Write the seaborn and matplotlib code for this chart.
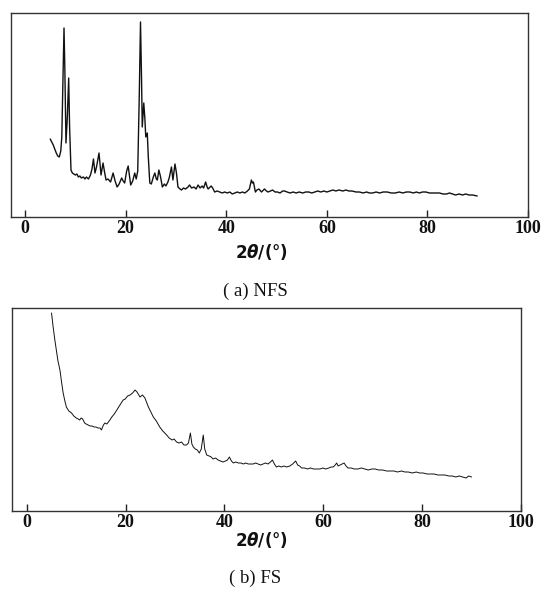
import pandas as pd
import matplotlib
matplotlib.use('Agg')
import matplotlib.pyplot as plt
import seaborn as sns

# ---------------- Data (arbitrary intensity) ----------------

nfs_two_theta = [
    5.0, 5.3, 5.6, 5.9, 6.2, 6.5, 6.8, 7.1, 7.3, 7.5, 7.74, 7.9, 8.13, 8.4, 8.67, 8.85,
    9.13, 9.4, 9.7, 10.0, 10.3, 10.6, 10.9, 11.2, 11.6, 11.9, 12.2, 12.6, 13.0, 13.3,
    13.6, 13.9, 14.2, 14.7, 15.1, 15.5, 15.8, 16.1, 16.5, 17.0, 17.5, 17.9, 18.3, 18.7,
    19.2, 19.5, 19.8, 20.2, 20.5, 20.8, 21.0, 21.4, 21.8, 22.1, 22.4, 22.7, 22.95, 23.15,
    23.3, 23.6, 23.8, 24.0, 24.3, 24.5, 24.8, 25.1, 25.5, 25.8, 26.1, 26.3, 26.6, 26.9,
    27.3, 27.7, 28.0, 28.4, 28.7, 29.1, 29.4, 29.8, 30.1, 30.4, 30.8, 31.1, 31.5, 31.9,
    32.4, 32.7, 33.1, 33.6, 34.0, 34.4, 34.8, 35.2, 35.5, 35.9, 36.2, 36.4, 37.0, 37.3,
    37.7, 38.2, 38.7, 39.2, 39.7, 40.2, 40.7, 41.2, 41.7, 42.2, 42.7, 43.2, 43.7, 44.2,
    44.6, 45.0, 45.2, 45.4, 45.8, 46.1, 46.5, 47.0, 47.6, 48.0, 48.3, 48.8, 49.2, 49.7,
    50.2, 50.7, 51.2, 51.6, 52.1, 52.7, 53.3, 53.9, 54.5, 55.2, 55.8, 56.4, 57.0, 57.6,
    58.2, 58.8, 59.4, 60.0, 60.6, 61.2, 61.8, 62.4, 63.2, 63.8, 64.4, 65.0, 65.8, 66.5,
    67.2, 67.9, 68.5, 69.1, 69.8, 70.5, 71.2, 72.0, 72.8, 73.6, 74.4, 75.1, 75.8, 76.5,
    77.2, 77.8, 78.4, 79.0, 79.7, 80.4, 81.0, 81.7, 82.4, 83.1, 83.8, 84.4, 85.0, 85.6,
    86.3, 87.0, 87.6, 88.3, 89.0, 89.9,
]
nfs_intensity = [
    78, 75, 72, 68, 64, 61, 60, 66, 80, 130, 189, 150, 74, 100, 139, 90,
    47, 44, 43, 42, 43, 40, 41, 39, 40, 38, 40, 38, 42, 48,
    58, 44, 50, 64, 42, 54, 45, 37, 38, 35, 44, 36, 30, 33,
    39, 36, 34, 46, 51, 40, 32, 36, 44, 38, 46, 120, 195, 140,
    90, 114, 100, 80, 84, 60, 34, 33, 40, 44, 38, 37, 47, 41,
    30, 33, 31, 35, 40, 50, 37, 53, 44, 30, 28, 27, 29, 28,
    30, 32, 29, 30, 28, 32, 29, 31, 29, 35, 30, 28, 31, 29,
    25, 26, 25, 24, 25, 24, 25, 23, 24, 25, 24, 25, 24, 26,
    28, 37, 34, 35, 25, 27, 28, 25, 28, 26, 25, 26, 27, 25,
    25, 24, 26, 26, 25, 24, 25, 24, 25, 24, 25, 25, 24, 25,
    26, 25, 26, 25, 26, 27, 26, 27, 26, 27, 26, 26, 25, 25,
    24, 25, 24, 24, 25, 24, 25, 25, 24, 24, 25, 24, 25, 25,
    24, 25, 24, 25, 25, 24, 24, 24, 24, 23, 23, 24, 23, 22,
    23, 22, 23, 22, 22, 21,
]

fs_two_theta = [
    5.0, 5.3, 5.67, 6.0, 6.3, 6.7, 7.0, 7.35, 7.7, 8.0, 8.5, 9.05, 9.5, 10.0, 10.4, 10.7,
    11.0, 11.3, 11.7, 12.0, 12.4, 12.8, 13.2, 13.6, 14.0, 14.4, 14.8, 15.1, 15.5, 15.8,
    16.2, 16.8, 17.2, 17.7, 18.2, 18.6, 19.1, 19.5, 19.9, 20.4, 20.9, 21.4, 21.9, 22.3,
    22.9, 23.4, 23.9, 24.3, 24.6, 25.1, 25.6, 26.2, 26.9, 27.5, 28.3, 28.8, 29.4, 29.8,
    30.3, 30.8, 31.3, 31.8, 32.3, 32.7, 33.1, 33.4, 33.7, 34.1, 34.5, 34.9, 35.3, 35.7,
    36.0, 36.4, 36.9, 37.3, 37.7, 38.2, 38.7, 39.2, 39.7, 40.2, 40.6, 41.0, 41.4, 41.8,
    42.3, 42.8, 43.3, 43.8, 44.3, 44.8, 45.3, 45.8, 46.3, 46.8, 47.3, 47.8, 48.3, 48.8,
    49.3, 49.7, 50.1, 50.5, 51.0, 51.5, 52.0, 52.6, 53.2, 53.8, 54.4, 54.8, 55.2, 55.6,
    56.2, 56.8, 57.4, 58.0, 58.6, 59.3, 59.9, 60.5, 61.1, 61.6, 62.0, 62.4, 62.7, 63.0,
    63.4, 63.8, 64.2, 64.6, 65.0, 65.6, 66.3, 67.0, 67.7, 68.4, 69.1, 69.8, 70.5, 71.2,
    72.0, 72.8, 73.5, 74.3, 75.0, 75.8, 76.5, 77.2, 78.0, 78.8, 79.5, 80.2, 81.0, 81.7,
    82.4, 83.2, 83.9, 84.6, 85.4, 86.1, 86.8, 87.5, 88.2, 88.9, 89.4, 90.0,
]
fs_intensity = [
    198, 185, 171, 160, 150, 141, 130, 118, 110, 104, 100, 98, 95, 93, 92, 91,
    93, 92, 88, 87, 86, 85, 85, 84, 84, 83, 83, 81, 86, 88,
    87, 91, 94, 97, 101, 104, 108, 111, 112, 115, 116, 118, 121, 119,
    114, 116, 113, 108, 104, 99, 94, 90, 84, 80, 76, 73, 71, 72,
    69, 68, 69, 66, 66, 68, 78, 67, 64, 62, 61, 58, 62, 76,
    62, 56, 55, 54, 52, 53, 51, 50, 49, 50, 51, 54, 50, 48,
    49, 48, 48, 47, 48, 47, 47, 47, 48, 47, 46, 47, 48, 47,
    49, 51, 47, 44, 45, 44, 45, 44, 45, 47, 50, 46, 45, 43,
    43, 42, 43, 42, 42, 42, 43, 42, 43, 44, 44, 46, 48, 45,
    46, 47, 48, 45, 43, 43, 42, 42, 43, 42, 41, 42, 42, 41,
    41, 40, 40, 40, 39, 40, 39, 39, 38, 39, 38, 38, 37, 37,
    37, 36, 36, 36, 35, 35, 34, 35, 34, 33, 35, 34,
]

x_ticks = [0, 20, 40, 60, 80, 100]
x_label = r"2$\theta$/(°)"
captions = ["( a) NFS", "( b) FS"]

# ---------------- Style ----------------

sns.set_style("ticks")
plt.rcParams['font.family'] = ['Liberation Serif', 'DejaVu Sans']
plt.rcParams['mathtext.fontset'] = 'custom'
plt.rcParams['mathtext.it'] = 'DejaVu Sans:italic:bold'
plt.rcParams['mathtext.rm'] = 'DejaVu Sans:bold'

W, H = 545, 592
fig = plt.figure(figsize=(W / 100, H / 100), dpi=100)


def box(left, top, right, bottom):
    return [left / W, 1 - bottom / H, (right - left) / W, (bottom - top) / H]


def draw_panel(rect, x, y, xlim, ylim, lw, label_y, caption, caption_y):
    ax = fig.add_axes(rect)
    df = pd.DataFrame({'two_theta': x, 'intensity': y})
    sns.lineplot(data=df, x='two_theta', y='intensity', ax=ax,
                 color='#111111', linewidth=lw, estimator=None, sort=False)

    ax.set_xlim(*xlim)
    ax.set_ylim(*ylim)
    ax.set_xticks(x_ticks)
    ax.set_yticks([])
    ax.set_xlabel("")
    ax.set_ylabel("")
    ax.tick_params(axis='x', direction='in', length=5, width=1, color='#222222',
                   labelsize=13, pad=2, labelcolor='#111111')
    for lab in ax.get_xticklabels():
        lab.set_fontweight('bold')
    for s in ax.spines.values():
        s.set_visible(True)
        s.set_linewidth(1.0)
        s.set_color('#333333')

    fig.text(262 / W, 1 - label_y / H, x_label, ha='center', va='center',
             fontsize=12, fontweight='bold', family='DejaVu Sans', color='#111111')
    fig.text(255 / W, 1 - caption_y / H, caption, ha='center', va='center',
             fontsize=13.5, family='Liberation Serif', color='#111111')
    return ax


# ---------------- Panels ----------------

draw_panel(box(11, 13, 528, 217), nfs_two_theta, nfs_intensity,
           (-2.8, 100), (0, 204), 1.0, 252, captions[0], 291)

draw_panel(box(12, 308, 521, 511), fs_two_theta, fs_intensity,
           (-3.0, 100), (0, 203), 0.7, 540, captions[1], 578)

plt.savefig('out.png', dpi=100)
